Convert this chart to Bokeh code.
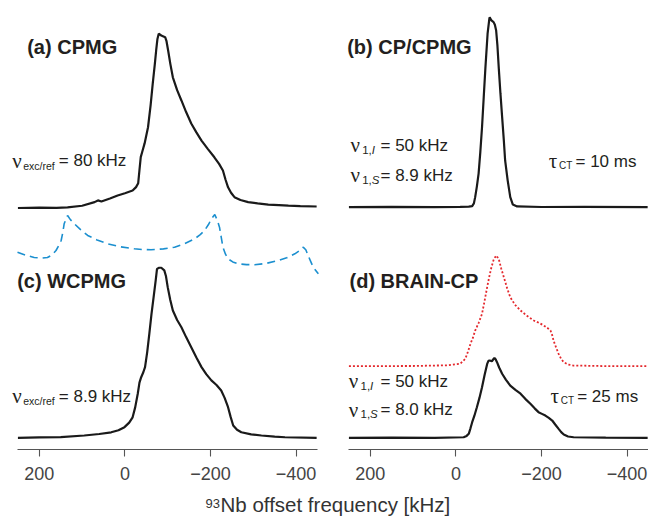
from bokeh.plotting import figure
from bokeh.models import Range1d, Label, FixedTicker
from bokeh.layouts import column, row
from bokeh.embed import file_html
from bokeh.resources import INLINE

# ---- spectra: offset frequency (kHz) and intensity (a.u., CP/CPMG maximum = 1) ----
cpmg_khz = [250, 200, 160, 134, 100, 71, 63, 55, 35, 17, 0, -18, -26, -31, -34, -37, -41, -46,
            -54, -60, -65, -70, -73, -76, -79, -85, -94, -97, -101, -106, -112, -122, -132,
            -143, -155, -167, -179, -194, -209, -220, -229, -235, -241, -248, -256, -270,
            -288, -310, -335, -360, -382, -410, -448]
cpmg_int = [0.000, 0.002, 0.001, 0.003, 0.012, 0.031, 0.040, 0.034, 0.050, 0.066, 0.078, 0.092,
            0.110, 0.130, 0.200, 0.268, 0.300, 0.340, 0.425, 0.540, 0.655, 0.760, 0.829, 0.890,
            0.917, 0.908, 0.899, 0.880, 0.829, 0.760, 0.688, 0.620, 0.566, 0.505, 0.445, 0.398,
            0.355, 0.310, 0.267, 0.232, 0.197, 0.150, 0.109, 0.080, 0.057, 0.042, 0.031, 0.024,
            0.018, 0.015, 0.012, 0.010, 0.008]

wcpmg_khz = [250, 200, 150, 95, 60, 32, 15, 1, -10, -18, -24, -30, -34, -38, -43, -47, -52, -57,
             -62, -68, -72, -75, -80, -85, -92, -96, -100, -106, -112, -122, -132, -143, -155,
             -167, -179, -190, -202, -214, -225, -233, -241, -247, -253, -262, -272, -295, -319,
             -350, -374, -448]
wcpmg_int = [0.000, 0.002, 0.004, 0.012, 0.020, 0.029, 0.040, 0.056, 0.080, 0.108, 0.160, 0.232,
             0.290, 0.319, 0.345, 0.372, 0.450, 0.547, 0.650, 0.758, 0.830, 0.889, 0.895, 0.895,
             0.881, 0.850, 0.793, 0.725, 0.670, 0.620, 0.582, 0.530, 0.477, 0.423, 0.372, 0.335,
             0.302, 0.278, 0.249, 0.210, 0.161, 0.110, 0.065, 0.042, 0.029, 0.018, 0.012, 0.006,
             0.003, 0.000]

cp_khz = [250, 150, 50, -10, -30, -38, -42, -45, -49, -53, -57, -61, -65, -69, -74, -78, -79,
          -81, -83, -88, -91, -94, -97, -100, -104, -108, -112, -115, -121, -127, -133, -143,
          -200, -300, -448]
cp_int = [0.000, 0.002, 0.000, 0.002, 0.003, 0.006, 0.020, 0.053, 0.110, 0.177, 0.290, 0.421,
          0.580, 0.737, 0.913, 0.990, 1.000, 0.990, 0.983, 0.974, 0.960, 0.930, 0.850, 0.737,
          0.600, 0.474, 0.350, 0.246, 0.140, 0.053, 0.014, 0.004, 0.001, 0.002, 0.000]

brain_khz = [250, 150, 50, -18, -25, -30, -34, -38, -43, -49, -55, -61, -67, -73, -76, -79, -84,
             -87, -90, -93, -96, -101, -108, -117, -127, -139, -151, -162, -174, -184, -193,
             -201, -209, -217, -225, -232, -240, -246, -252, -262, -275, -350, -448]
brain_int = [0.000, 0.001, 0.000, 0.003, 0.010, 0.021, 0.050, 0.082, 0.115, 0.161, 0.210, 0.266,
             0.330, 0.389, 0.405, 0.407, 0.403, 0.412, 0.421, 0.412, 0.398, 0.370, 0.337, 0.305,
             0.275, 0.252, 0.232, 0.205, 0.179, 0.155, 0.135, 0.126, 0.117, 0.105, 0.091, 0.070,
             0.047, 0.030, 0.017, 0.007, 0.003, 0.001, 0.000]

# simulated BRAIN-CP line shape (normalised)
sim_khz = [250, 100, 20, -10, -22, -28, -34, -40, -45, -53, -61, -67, -73, -78, -83, -88, -94,
           -100, -106, -112, -120, -127, -138, -151, -166, -182, -195, -205, -214, -221, -225,
           -228, -234, -240, -246, -252, -262, -275, -350, -448]
sim_int = [0.000, 0.002, 0.008, 0.022, 0.067, 0.130, 0.202, 0.260, 0.322, 0.390, 0.473, 0.590,
           0.714, 0.810, 0.894, 0.960, 1.000, 0.970, 0.880, 0.804, 0.700, 0.623, 0.555, 0.503,
           0.455, 0.413, 0.390, 0.368, 0.345, 0.322, 0.280, 0.232, 0.170, 0.112, 0.065, 0.036,
           0.015, 0.006, 0.001, 0.000]

# CPMG excitation profile (normalised)
exc_khz = [251, 230, 212, 195, 181, 170, 161, 155, 149, 145, 142, 134, 127, 118, 103, 87, 65, 40,
           10, -22, -40, -61, -90, -116, -140, -163, -176, -186, -196, -202, -210, -216, -221,
           -225, -229, -235, -241, -252, -264, -284, -303, -330, -358, -378, -397, -408, -417,
           -423, -428, -434, -440, -452]
exc_int = [0.364, 0.310, 0.275, 0.265, 0.275, 0.320, 0.393, 0.470, 0.562, 0.700, 0.843, 0.983,
           0.910, 0.843, 0.740, 0.646, 0.570, 0.506, 0.455, 0.422, 0.410, 0.405, 0.420, 0.449,
           0.510, 0.590, 0.660, 0.730, 0.840, 0.927, 1.000, 0.900, 0.786, 0.620, 0.449, 0.330,
           0.253, 0.200, 0.169, 0.155, 0.152, 0.175, 0.224, 0.270, 0.337, 0.390, 0.449, 0.400,
           0.309, 0.210, 0.111, 0.000]

tick_values = [200, 0, -200, -400]
tick_labels = ["200", "0", "\u2212200", "\u2212400"]
axis_span = (-450, 251)   # frequency window covered by each axis line

# ---- styling / geometry ----
PANEL_W = 324
FRAME_H = 449          # frame height in px; y data units are pixels
SPEC_SCALE = 190       # px per intensity unit
KHZ_PER_PX = 701 / 300
TEXT_LIFT = 6          # alphabetic baseline correction
INK = "#231f20"
SANS = "Liberation Sans"
SERIF = "Liberation Serif"


def make_panel(axis_left_px):
    hi = axis_span[1] + axis_left_px * KHZ_PER_PX
    lo = hi - PANEL_W * KHZ_PER_PX
    p = figure(width=PANEL_W, height=492, x_range=Range1d(hi, lo), y_range=Range1d(0, FRAME_H),
               output_backend="svg", toolbar_location=None, y_axis_location=None,
               min_border_left=0, min_border_right=0, min_border_top=0, min_border_bottom=43)
    p.outline_line_color = None
    p.grid.visible = False
    p.background_fill_color = "white"
    p.border_fill_color = "white"
    ax = p.xaxis[0]
    ax.bounds = axis_span
    ax.ticker = FixedTicker(ticks=tick_values)
    ax.major_label_overrides = dict(zip(tick_values, tick_labels))
    ax.axis_line_color = "#555555"
    ax.axis_line_width = 1.1
    ax.major_tick_line_color = "#555555"
    ax.major_tick_line_width = 1.1
    ax.major_tick_out = 7
    ax.major_tick_in = 0
    ax.minor_tick_line_color = None
    ax.major_label_standoff = 10
    ax.major_label_text_font = SANS
    ax.major_label_text_font_size = "18px"
    ax.major_label_text_color = "#444444"
    return p


def spectrum(p, khz, inten, base_py, scale, **style):
    base = FRAME_H - base_py
    p.line(khz, [base + scale * v for v in inten], **style)


def put(p, frame_left, text, px, py, size, font=SANS, style="normal"):
    p.add_layout(Label(x=px - frame_left, y=FRAME_H - py + TEXT_LIFT, x_units="screen",
                       y_units="screen", text=text, text_font=font, text_font_size=f"{size}px",
                       text_font_style=style, text_color=INK, text_baseline="alphabetic",
                       text_align="left"))


# left column: CPMG (top) and WCPMG (bottom) with the excitation profile between them
LEFT = 0
left = make_panel(17)
spectrum(left, exc_khz, exc_int, 273.3, 59.3, line_color="#1b8fcf", line_width=1.6,
         line_dash="8 5")
spectrum(left, cpmg_khz, cpmg_int, 207.5, SPEC_SCALE, line_color="#1a1a1a", line_width=2.2)
spectrum(left, wcpmg_khz, wcpmg_int, 437.3, SPEC_SCALE, line_color="#1a1a1a", line_width=2.2)

put(left, LEFT, "(a) CPMG", 26.7, 52.5, 20, style="bold")
put(left, LEFT, "\u03bd", 11.7, 166, 21, font=SERIF)
put(left, LEFT, "exc/ref", 22.7, 171, 10.5)
put(left, LEFT, "= 80 kHz", 58.3, 166, 17)

put(left, LEFT, "(c) WCPMG", 16.7, 286, 20, style="bold")
put(left, LEFT, "\u03bd", 11.7, 401.5, 21, font=SERIF)
put(left, LEFT, "exc/ref", 22.7, 406.5, 10.5)
put(left, LEFT, "= 8.9 kHz", 58.3, 401.5, 17)

# right column: CP/CPMG (top) and BRAIN-CP with its simulation (bottom)
RIGHT = PANEL_W
right = make_panel(24)
spectrum(right, cp_khz, cp_int, 206.7, SPEC_SCALE, line_color="#1a1a1a", line_width=2.2)
spectrum(right, sim_khz, sim_int, 365.7, 110.7, line_color="#e4282d", line_width=1.8,
         line_dash="2 2")
spectrum(right, brain_khz, brain_int, 437.3, SPEC_SCALE, line_color="#1a1a1a", line_width=2.2)

put(right, RIGHT, "(b) CP/CPMG", 346.7, 52, 20, style="bold")
for py, sub, rest in [(150.5, "I", "= 50 kHz"), (180.5, "S", "= 8.9 kHz")]:
    put(right, RIGHT, "\u03bd", 350, py, 21, font=SERIF)
    put(right, RIGHT, "1,", 361.7, py + 4.5, 11.5)
    put(right, RIGHT, sub, 371.2, py + 4.5, 11.5, style="italic")
    put(right, RIGHT, rest, 380, py, 17)
put(right, RIGHT, "\u03c4", 548.3, 166.5, 21, font=SERIF)
put(right, RIGHT, "CT", 558.5, 171, 10)
put(right, RIGHT, "= 10 ms", 575, 166.5, 17)

put(right, RIGHT, "(d) BRAIN-CP", 349, 286.5, 20, style="bold")
for py, sub, rest in [(386.5, "I", "= 50 kHz"), (415, "S", "= 8.0 kHz")]:
    put(right, RIGHT, "\u03bd", 348.3, py, 21, font=SERIF)
    put(right, RIGHT, "1,", 360, py + 4.5, 11.5)
    put(right, RIGHT, sub, 369.5, py + 4.5, 11.5, style="italic")
    put(right, RIGHT, rest, 380, py, 17)
put(right, RIGHT, "\u03c4", 550, 401.5, 21, font=SERIF)
put(right, RIGHT, "CT", 560.2, 406, 10)
put(right, RIGHT, "= 25 ms", 576.7, 401.5, 17)

# shared axis title under both columns
title = figure(width=648, height=26, x_range=Range1d(0, 648), y_range=Range1d(0, 26),
               output_backend="svg", toolbar_location=None, x_axis_location=None,
               y_axis_location=None, min_border=0)
title.outline_line_color = None
title.grid.visible = False
title.add_layout(Label(x=205, y=11, x_units="screen", y_units="screen", text="93",
                       text_font=SANS, text_font_size="13px", text_color="#333333",
                       text_baseline="bottom"))
title.add_layout(Label(x=220, y=3, x_units="screen", y_units="screen",
                       text="Nb offset frequency [kHz]", text_font=SANS,
                       text_font_size="20.5px", text_color="#333333", text_baseline="bottom"))

layout = column(row(left, right, spacing=0), title, spacing=0)

with open("out.html", "w") as f:
    f.write(file_html(layout, INLINE))
